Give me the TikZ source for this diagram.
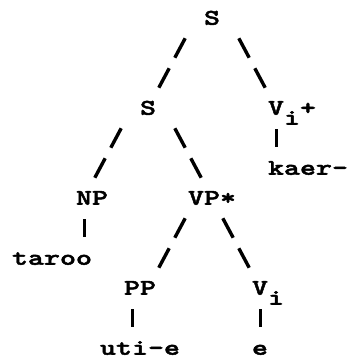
\documentclass[tikz,border=0pt]{standalone}
\usepackage{fontspec}
% Bold typewriter face, widened to a 16bp character pitch
\newfontfamily\typewriter{lmmonolt10-bold.otf}[FakeStretch=1.36,FakeBold=2]
\newcommand\lowered[1]{\raisebox{-10bp}{#1}}
\tikzset{
  lbl/.style={font={\typewriter\fontsize{22.4bp}{23bp}\selectfont},
    inner sep=0pt, text height=13.5bp, text depth=0pt},
  % a branch spanning three rows, shown as two slash marks
  branch/.style={line width=3.4bp,
    dash pattern=on 0pt off 23bp on 22bp off 12bp on 22bp off 40bp},
  % a stem spanning two rows, shown as one bar
  stem/.style={line width=3bp,
    dash pattern=on 0pt off 21bp on 18bp off 40bp},
}
\begin{document}
\begin{tikzpicture}[x=16bp,y=-30bp]
\useasboundingbox (-1.25,-0.6) rectangle (20.6875,11.4);

% labels on a character grid: columns 16bp, rows 30bp
\node[lbl] (s0)    at (12,0)   {S};
\node[lbl] (s1)    at (8,3)    {S};
\node[lbl] (vplus) at (17,3)   {V\lowered{i}+};
\node[lbl] (kaer)  at (18,5)   {kaer-};
\node[lbl] (np)    at (4.5,6)  {NP};
\node[lbl] (vp)    at (12,6)   {VP*};
\node[lbl] (taroo) at (2,8)    {taroo};
\node[lbl] (pp)    at (7.5,9)  {PP};
\node[lbl] (vi)    at (15.5,9) {V\lowered{i}};
\node[lbl] (uti)   at (7.5,11) {uti-e};
\node[lbl] (e)     at (15,11)  {e};

% branches
\draw[branch] ([xshift=-16bp]s0.center) -- (s1.center);
\draw[branch] ([xshift=16bp]s0.center) -- ([xshift=-16bp]vplus.center);
\draw[branch] ([xshift=-16bp]s1.center) -- ([xshift=-8bp]np.center);
\draw[branch] ([xshift=16bp]s1.center) -- (vp.center);
\draw[branch] ([xshift=-16bp]vp.center) -- ([xshift=8bp]pp.center);
\draw[branch] (vp.center) -- ([xshift=-8bp]vi.center);

% stems down to the words
\draw[stem] ([xshift=-8bp]np.center) -- ([xshift=32bp]taroo.center);
\draw[stem] ([xshift=-16bp]vplus.center) -- ([xshift=-32bp]kaer.center);
\draw[stem] ([xshift=-8bp]pp.center) -- ([xshift=-8bp]uti.center);
\draw[stem] ([xshift=-8bp]vi.center) -- (e.center);
\end{tikzpicture}
\end{document}
